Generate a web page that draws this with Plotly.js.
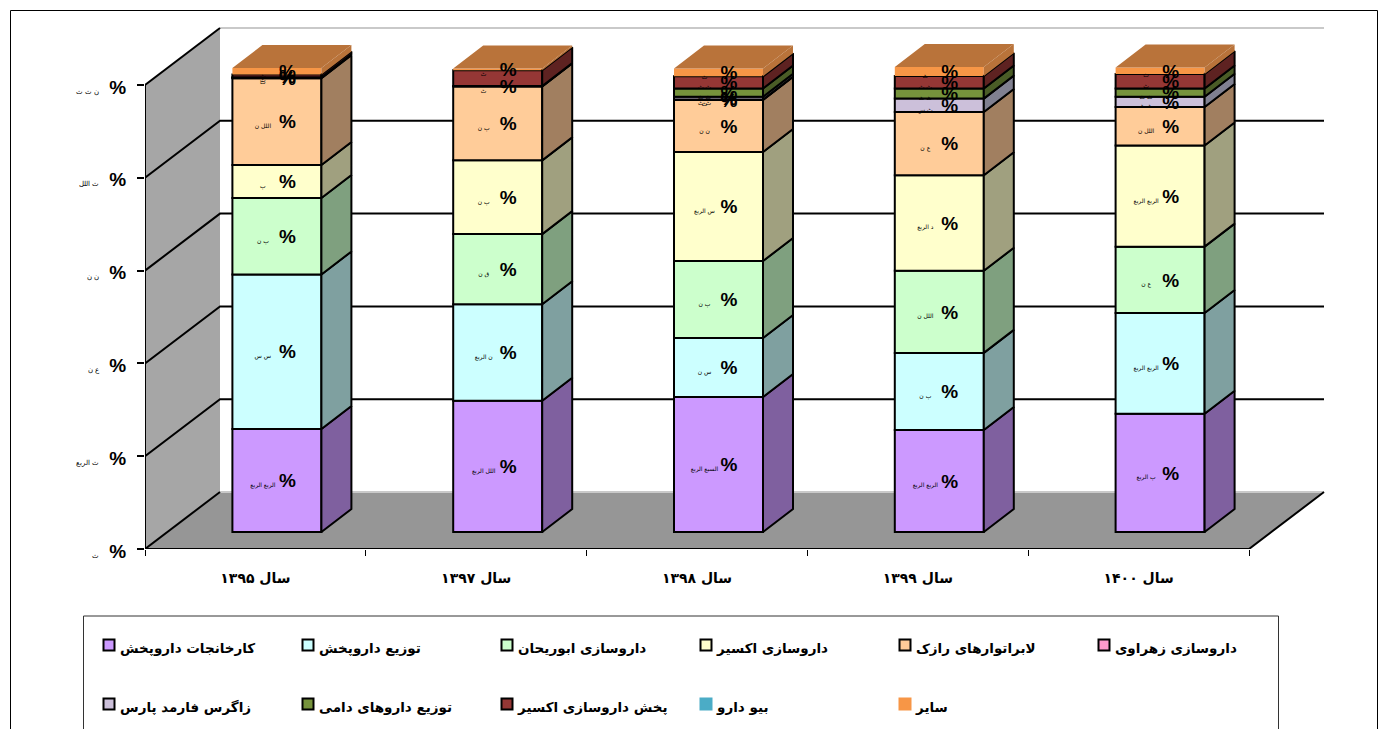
<!DOCTYPE html>
<html><head><meta charset="utf-8">
<script src="https://cdn.plot.ly/plotly-3.0.1.min.js"></script>
<style>html,body{margin:0;padding:0;background:#fff;overflow:hidden}</style>
</head><body><div id="chart" style="width:1389px;height:729px"></div>
<script>
const years = ['سال ۱۳۹۵','سال ۱۳۹۷','سال ۱۳۹۸','سال ۱۳۹۹','سال ۱۴۰۰'];
const seriesNames = ['کارخانجات داروپخش','توزیع داروپخش','داروسازی ابوریحان','داروسازی اکسیر','لابراتوارهای رازک','داروسازی زهراوی','زاگرس فارمد پارس','توزیع داروهای دامی','پخش داروسازی اکسیر','بیو دارو','سایر'];
const colors = ['#CC99FF','#CCFFFF','#CCFFCC','#FFFFCC','#FFCC99','#FF99CC','#CCC0DA','#76933C','#953735','#4BACC6','#F79646'];
const sideColors = ['#7F609F','#7FA0A0','#7FA07F','#A0A07F','#A17F60','#A0607F','#808090','#4A5C26','#5E2221','#2F6C7C','#B9733A'];
const darupakhsh = [22.2,28.3,29.1,22.0,25.5];
const tozi = [33.3,20.8,12.7,16.6,21.7];
const abouraihan = [16.5,15.1,16.6,17.7,14.3];
const exir = [7.1,15.9,23.5,20.6,21.8];
const razak = [18.7,15.9,11.2,13.6,8.3];
const zahravi = [0.1,0.1,0.1,0,0];
const zagros = [0,0,0.6,2.9,2.2];
const damiTozi = [0.1,0,1.8,2.2,1.8];
const pakhshExir = [0.6,3.4,2.6,2.7,3.1];
const bioDaru = [0,0,0,0,0];
const sayer = [1.4,0.4,1.7,1.9,1.4];
const seriesValues = [darupakhsh,tozi,abouraihan,exir,razak,zahravi,zagros,damiTozi,pakhshExir,bioDaru,sayer];
const labelsPurple = ['الربع الربع','اللل الربع','السبع الربع','الربع الربع','ٻ الربع'];
const labelsCyan = ['س س','ن الربع','س ن','ٻ ن','الربع الربع'];
const labelsGreen = ['ٻ ن','ق ن','ٻ ن','اللل ن','ع ن'];
const labelsYellow = ['ٻ','ٻ ن','س الربع','د الربع','الربع الربع'];
const labelsPeach = ['اللل ن','ٻ ن','ن ن','ع ن','اللل ن'];
const labelsPink = ['ٹ','ٹ','ٹ','',''];
const labelsLilac = ['','','ٹ ٹ','ٹ س','ٹ ٹ'];
const labelsOlive = ['','','ٹ ٹ','ٹ ٹ','ٹ ٹ'];
const labelsRed = ['ٹ','','ٹ ٹ','ٹ ٹ','ٹ'];
const labelsBio = ['','','','',''];
const labelsOrange = ['ٹ','ٹ','ٹ','ٹ','ٹ'];
const seriesLabels = [labelsPurple,labelsCyan,labelsGreen,labelsYellow,labelsPeach,labelsPink,labelsLilac,labelsOlive,labelsRed,labelsBio,labelsOrange];
const axisValues = [0,20,40,60,80,100];
const axisGlyphs = ['ث','ث الربع','ع ن','ن ن','ث اللل','ن ث ث'];
const legendRows = [0,0,0,0,0,0,1,1,1,1,1];
const legendCols = [0,1,2,3,4,5,0,1,2,3,4];

const W=1389,H=729;
const pxPerCat=220.8, pxPerPct=4.64;
const plotL=145, plotR=1335, plotB=549, plotT=20;
const xRange=[-0.5,-0.5+(plotR-plotL)/pxPerCat];
const yRange=[0,(plotB-plotT)/pxPerPct];
const wallDx=75/pxPerCat, wallDy=57/pxPerPct;
const barLiftX=21.5/pxPerCat, barLiftY=17/pxPerPct;
const sideDx=30/pxPerCat, sideDy=23/pxPerPct;
const barW=89/pxPerCat;
const arFont='"DejaVu Sans", sans-serif';
const latinFont='"Liberation Sans", Arial, sans-serif';
const small=s=>'<span style="font-size:7px;font-weight:normal">'+s+'</span>';

const traces=[];
const base={hoverinfo:'skip',showlegend:false};
const xL=-0.5,xR=4.5;
traces.push({...base,type:'scatter',mode:'none',fill:'toself',fillcolor:'#A6A6A6',
  x:[xL,xL+wallDx,xL+wallDx,xL,xL],y:[0,wallDy,100+wallDy,100,0]});
traces.push({...base,type:'scatter',mode:'none',fill:'toself',fillcolor:'#969696',
  x:[xL,xL+wallDx,xR+wallDx,xR,xL],y:[0,wallDy,wallDy,0,0]});
traces.push({...base,type:'scatter',mode:'lines',line:{color:'#c9c9c9',width:2},
  x:[xL+wallDx,xR+wallDx,null,xL+wallDx,xR+wallDx],y:[wallDy,wallDy,null,100+wallDy,100+wallDy]});
axisValues.forEach(v=>{
  const inner=v>0&&v<100;
  traces.push({...base,type:'scatter',mode:'lines',line:{color:'#000',width:2},
    x:inner?[xL,xL+wallDx,xR+wallDx]:[xL,xL+wallDx],
    y:inner?[v,v+wallDy,v+wallDy]:[v,v+wallDy]});
});
traces.push({...base,type:'scatter',mode:'lines',line:{color:'#000',width:2},
  x:[xL,xL,xR,xR+wallDx],y:[100,0,0,wallDy]});

const cum=years.map(()=>0);
const pctX=[],pctY=[],glyphX=[],glyphY=[],glyphT=[];
seriesValues.forEach((vals,s)=>{
  const bases=vals.map((v,i)=>cum[i]+barLiftY);
  const outlined=s<9;
  const sx=[],sy=[];
  vals.forEach((v,i)=>{
    const xr=i+barLiftX+barW/2, y0=cum[i]+barLiftY, y1=y0+v;
    if(v>0){ sx.push(xr,xr+sideDx,xr+sideDx,xr,xr,null); sy.push(y0,y0+sideDy,y1+sideDy,y1,y0,null); }
    if(seriesLabels[s][i]!==''){
      pctX.push(i+barLiftX+10.5/pxPerCat); pctY.push((y0+y1)/2-2/pxPerPct);
      glyphX.push(i+barLiftX-14/pxPerCat); glyphY.push((y0+y1)/2-5/pxPerPct);
      glyphT.push(seriesLabels[s][i]);
    }
    cum[i]+=v;
  });
  if(sx.length) traces.push({...base,type:'scatter',mode:outlined?'lines':'none',xaxis:'x2',yaxis:'y2',fill:'toself',
    fillcolor:sideColors[s],line:{color:'#000',width:2},x:sx,y:sy});
  traces.push({...base,type:'bar',xaxis:'x2',yaxis:'y2',x:years.map((_,i)=>i+barLiftX),y:vals,base:bases,width:barW,
    name:seriesNames[s],marker:{color:colors[s],line:{color:outlined?'#000':colors[s],width:outlined?2:0}}});
});
const topX=[],topY=[];
cum.forEach((c,i)=>{
  const a=i+barLiftX-barW/2,b=i+barLiftX+barW/2,y=c+barLiftY;
  topX.push(a,b,b+sideDx,a+sideDx,a,null); topY.push(y,y,y+sideDy,y+sideDy,y,null);
});
traces.push({...base,type:'scatter',mode:'none',fill:'toself',fillcolor:sideColors[10],xaxis:'x2',yaxis:'y2',x:topX,y:topY});
traces.push({...base,type:'scatter',mode:'text',xaxis:'x2',yaxis:'y2',x:glyphX,y:glyphY,text:glyphT,textposition:'middle center',
  cliponaxis:false,textfont:{family:arFont,size:6,color:'#000'}});
traces.push({...base,type:'scatter',mode:'text',xaxis:'x2',yaxis:'y2',x:pctX,y:pctY,text:pctX.map(()=>'<b>%</b>'),textposition:'middle center',
  cliponaxis:false,textfont:{family:latinFont,size:19,color:'#000'}});
traces.push({...base,type:'scatter',mode:'markers',xaxis:'x3',yaxis:'y3',x:legendCols,y:legendRows,cliponaxis:false,
  marker:{symbol:'square',size:11,color:colors,line:{color:colors.map((c,i)=>i<9?'#000':c),width:2}}});
traces.push({...base,type:'scatter',mode:'text',xaxis:'x3',yaxis:'y3',x:legendCols.map(c=>c+11/199),y:legendRows.map(r=>r+5/59),
  text:seriesNames.map(n=>'<b>'+n+'</b>'),textposition:'middle right',cliponaxis:false,
  textfont:{family:arFont,size:13.5,color:'#000'}});

const layout={
  width:W,height:H,margin:{l:0,r:0,t:0,b:0},paper_bgcolor:'#fff',plot_bgcolor:'rgba(0,0,0,0)',showlegend:false,
  barmode:'overlay',
  xaxis:{domain:[plotL/W,plotR/W],range:xRange,type:'linear',tickmode:'array',tickvals:years.map((_,i)=>i),ticktext:years.map(y=>'<b>'+y+'</b>'),
    ticks:'',showgrid:false,zeroline:false,showline:false,
    minor:{tick0:-0.5,dtick:1,ticks:'outside',ticklen:6,tickwidth:1,tickcolor:'#000',showgrid:false},
    tickfont:{family:arFont,size:14,color:'#000'},ticklabelstandoff:19},
  yaxis:{domain:[1-plotB/H,1-plotT/H],range:yRange,tickmode:'array',tickvals:axisValues,
    ticktext:axisGlyphs.map(g=>small(g)+'\u00a0\u00a0\u200e<b>%</b>'),
    ticks:'outside',ticklen:7,tickwidth:2,tickcolor:'#000',showgrid:false,zeroline:false,showline:false,
    ticklabelstandoff:7,ticklabelshift:2,
    tickfont:{family:latinFont,size:19,color:'#000'}},
  xaxis2:{overlaying:'x',range:xRange,visible:false,type:'linear'},
  yaxis2:{overlaying:'y',range:yRange,visible:false},
  xaxis3:{domain:[109/W,(109+199*6)/W],range:[0,6],visible:false,anchor:'y3',type:'linear'},
  yaxis3:{domain:[1-720/H,1-630/H],range:[75/59,-15/59],visible:false,anchor:'x3'},
  shapes:[
    {type:'rect',xref:'paper',yref:'paper',x0:10.5/W,x1:1377.5/W,y0:-0.1,y1:1-10.5/H,line:{color:'#000',width:1},fillcolor:'rgba(0,0,0,0)'},
    {type:'rect',xref:'paper',yref:'paper',x0:83.5/W,x1:1278.5/W,y0:-0.1,y1:1-616/H,line:{color:'#333',width:1},fillcolor:'rgba(0,0,0,0)'}
  ]
};
Plotly.newPlot('chart',traces,layout,{displayModeBar:false,staticPlot:true});
</script>
</body></html>
